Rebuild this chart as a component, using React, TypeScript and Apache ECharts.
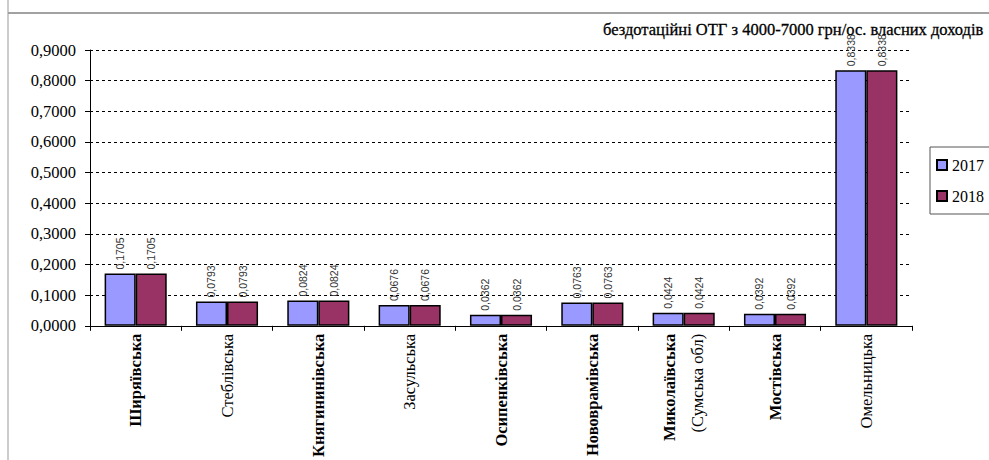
import React, { useEffect, useRef } from "react";
import * as echarts from "echarts";

const categories = [
  "Ширяївська",
  "Стеблівська",
  "Княгининівська",
  "Засульська",
  "Осипенківська",
  "Нововрамівська",
  "Миколаївська\n(Сумська обл)",
  "Мостівська",
  "Омельницька",
];
const boldCats = [true, false, true, false, true, true, true, true, false];
const values2017 = [0.1705, 0.0793, 0.0824, 0.0676, 0.0362, 0.0763, 0.0424, 0.0392, 0.8338];
const values2018 = [0.1705, 0.0793, 0.0824, 0.0676, 0.0362, 0.0763, 0.0424, 0.0392, 0.8338];
const seriesNames = ["2017", "2018"];
const titleText = "бездотаційні ОТГ з 4000-7000 грн/ос. власних доходів";

const fmt = (v: number) => v.toFixed(4).replace(".", ",");

export default function App() {
  const ref = useRef<HTMLDivElement>(null);
  useEffect(() => {
    document.body.style.margin = "0";
    const chart = echarts.init(ref.current!, null, { renderer: "svg" });
    const serif = "Liberation Serif";
    const labelCfg = {
      show: true,
      position: "top" as const,
      rotate: 90,
      align: "left" as const,
      verticalAlign: "middle" as const,
      distance: 4,
      fontFamily: "Liberation Sans",
      fontSize: 10.5,
      color: "#333",
      formatter: (p: any) => fmt(p.value),
    };
    chart.setOption({
      animation: false,
      backgroundColor: "#fff",
      title: {
        text: titleText,
        left: 598,
        top: 16,
        textStyle: { fontFamily: serif, fontSize: 16.5, fontWeight: "normal", color: "#000", textBorderColor: "#000", textBorderWidth: 0.3 },
      },
      legend: {
        orient: "vertical",
        left: 930,
        top: 147,
        padding: [10, 8, 10, 6],
        itemGap: 15,
        itemWidth: 10,
        itemHeight: 10,
        borderColor: "#555",
        borderWidth: 1,
        icon: "rect",
        textStyle: { fontFamily: serif, fontSize: 16, color: "#000" },
        data: seriesNames,
      },
      grid: { left: 90, right: 77, top: 50, bottom: 133, containLabel: false },
      xAxis: {
        type: "category",
        data: categories,
        axisLine: { lineStyle: { color: "#000", width: 1 } },
        axisTick: { show: true, length: 5, lineStyle: { color: "#000" } },
        axisLabel: {
          rotate: 90,
          interval: 0,
          margin: 8,
          lineHeight: 28,
          formatter: (v: string, i: number) => {
            const lines = v.split("\n");
            if (lines.length > 1) {
              return `{b|${lines[0]}}\n{n|${lines[1]}}`;
            }
            return boldCats[i] ? `{b|${v}}` : `{n|${v}}`;
          },
          rich: {
            b: { fontFamily: serif, fontSize: 16.5, fontWeight: "bold", color: "#000", lineHeight: 28 },
            n: { fontFamily: serif, fontSize: 16.5, fontWeight: "normal", color: "#000", lineHeight: 28 },
          },
        },
      },
      yAxis: {
        type: "value",
        min: 0,
        max: 0.9,
        interval: 0.1,
        axisLine: { show: true, lineStyle: { color: "#000", width: 1 } },
        axisTick: { show: true, length: 5, lineStyle: { color: "#000" } },
        axisLabel: {
          formatter: (v: number) => fmt(v),
          fontFamily: serif,
          fontSize: 16.5,
          color: "#000",
          margin: 14,
        },
        splitLine: { show: true, lineStyle: { color: "#000", type: [3, 3], width: 1 } },
      },
      series: [
        {
          name: seriesNames[0],
          type: "bar",
          data: values2017,
          barGap: "0%",
          barCategoryGap: "32%",
          itemStyle: { color: "#9999FF", borderColor: "#000", borderWidth: 1.5 },
          label: labelCfg,
        },
        {
          name: seriesNames[1],
          type: "bar",
          data: values2018,
          itemStyle: { color: "#993366", borderColor: "#000", borderWidth: 1.5 },
          label: labelCfg,
        },
      ],
      graphic: [
        { type: "line", shape: { x1: 8, y1: 13, x2: 989, y2: 13 }, style: { stroke: "#444", lineWidth: 1 } },
        { type: "line", shape: { x1: 8, y1: 0, x2: 8, y2: 460 }, style: { stroke: "#999", lineWidth: 1 } },
      ],
    });
    return () => chart.dispose();
  }, []);
  return <div ref={ref} style={{ width: 989, height: 460 }} />;
}
